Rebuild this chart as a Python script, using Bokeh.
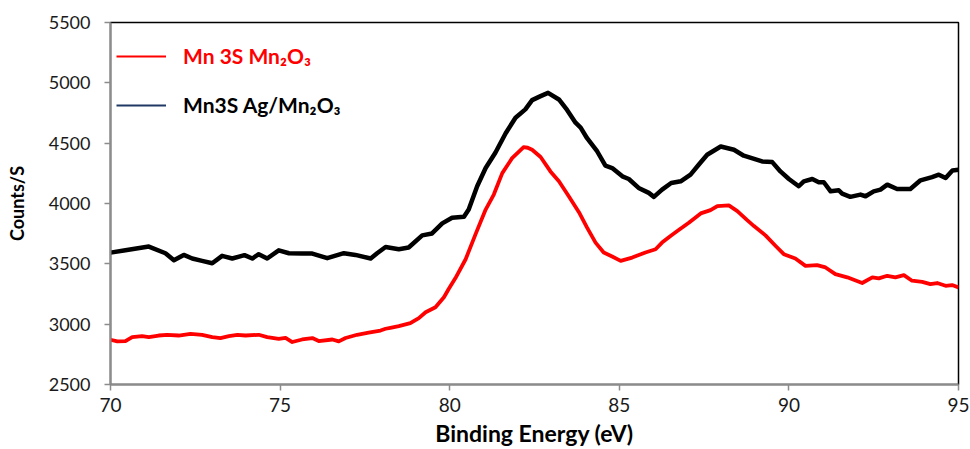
from bokeh.plotting import figure
from bokeh.models import Legend, LegendItem, FixedTicker, ColumnDataSource
from bokeh.embed import file_html
from bokeh.resources import INLINE

# Binding energy (eV) and counts for Mn 3S Mn2O3 (red)
red_energy = [70.0, 70.20, 70.44, 70.64, 70.93, 71.13, 71.42, 71.67, 72.01, 72.36,
              72.70, 73.00, 73.24, 73.49, 73.74, 73.98, 74.37, 74.62, 74.96, 75.16,
              75.36, 75.65, 75.95, 76.14, 76.54, 76.73, 76.93, 77.27, 77.61, 77.96,
              78.11, 78.25, 78.50, 78.84, 79.09, 79.29, 79.58, 79.83, 79.97, 80.17,
              80.47, 80.76, 81.06, 81.30, 81.55, 81.84, 82.18, 82.30, 82.43, 82.68,
              82.97, 83.22, 83.51, 83.81, 84.05, 84.30, 84.54, 84.79, 85.04, 85.38,
              85.77, 86.07, 86.26, 86.51, 86.71, 87.05, 87.40, 87.69, 87.89, 88.23,
              88.48, 88.77, 88.97, 89.31, 89.61, 89.85, 90.19, 90.49, 90.83, 91.08,
              91.37, 91.72, 92.16, 92.46, 92.65, 92.90, 93.14, 93.39, 93.63, 93.93,
              94.17, 94.37, 94.62, 94.81, 95.0]
red_counts = [2871, 2857, 2860, 2893, 2901, 2893, 2906, 2912, 2906, 2920,
              2912, 2893, 2885, 2901, 2912, 2906, 2912, 2893, 2879, 2887,
              2852, 2873, 2885, 2860, 2873, 2857, 2885, 2912, 2929, 2947,
              2962, 2970, 2984, 3008, 3050, 3099, 3140, 3223, 3291, 3382,
              3538, 3744, 3950, 4074, 4252, 4376, 4467, 4462, 4445, 4385,
              4266, 4184, 4060, 3928, 3800, 3676, 3594, 3561, 3525, 3552,
              3594, 3621, 3676, 3731, 3772, 3841, 3918, 3945, 3978, 3984,
              3937, 3862, 3813, 3736, 3648, 3580, 3544, 3483, 3489, 3470,
              3415, 3388, 3341, 3388, 3379, 3401, 3388, 3406, 3360, 3351,
              3332, 3341, 3318, 3324, 3305]

# Binding energy (eV) and counts for Mn3S Ag/Mn2O3 (black)
black_energy = [70.0, 70.44, 71.13, 71.62, 71.87, 72.16, 72.41, 72.70, 73.00, 73.29,
                73.59, 73.95, 74.18, 74.37, 74.62, 74.96, 75.26, 75.65, 75.95, 76.39,
                76.88, 77.22, 77.67, 77.86, 78.11, 78.50, 78.79, 79.19, 79.48, 79.78,
                80.07, 80.42, 80.56, 80.81, 81.06, 81.35, 81.65, 81.94, 82.23, 82.43,
                82.68, 82.90, 83.22, 83.46, 83.71, 83.86, 84.05, 84.35, 84.59, 84.79,
                85.09, 85.28, 85.57, 85.87, 86.02, 86.26, 86.53, 86.81, 87.10, 87.34,
                87.59, 87.99, 88.38, 88.67, 89.21, 89.51, 89.75, 90.00, 90.29, 90.44,
                90.69, 90.88, 91.03, 91.23, 91.47, 91.57, 91.81, 92.11, 92.26, 92.50,
                92.70, 92.90, 93.19, 93.58, 93.88, 94.22, 94.42, 94.62, 94.82, 95.0]
black_counts = [3593, 3612, 3643, 3588, 3530, 3574, 3544, 3525, 3505, 3566,
                3544, 3572, 3544, 3580, 3544, 3612, 3588, 3585, 3585, 3547,
                3588, 3574, 3544, 3588, 3640, 3621, 3635, 3736, 3752, 3835,
                3882, 3890, 3950, 4143, 4294, 4423, 4582, 4711, 4780, 4857,
                4890, 4917, 4862, 4775, 4670, 4629, 4541, 4431, 4313, 4294,
                4225, 4203, 4129, 4088, 4055, 4115, 4170, 4184, 4239, 4321,
                4404, 4472, 4445, 4396, 4349, 4343, 4266, 4203, 4143, 4184,
                4203, 4176, 4176, 4101, 4110, 4082, 4055, 4074, 4060, 4101,
                4115, 4156, 4120, 4120, 4192, 4219, 4239, 4211, 4274, 4280]

x_ticks = [70, 75, 80, 85, 90, 95]
y_ticks = [2500, 3000, 3500, 4000, 4500, 5000, 5500]
legend_labels = ["Mn 3S Mn\u2082O\u2083", "Mn3S Ag/Mn\u2082O\u2083"]

FONT = "Lato"
NAN = float("nan")

p = figure(width=970, height=449, output_backend="svg", toolbar_location=None,
           x_range=(70, 95), y_range=(2500, 5500),
           min_border_left=110, min_border_right=12, min_border_top=22, min_border_bottom=63)

p.xgrid.visible = False
p.ygrid.visible = False
p.background_fill_color = "white"
p.border_fill_color = "white"
p.outline_line_color = "black"
p.outline_line_width = 1.5

p.xaxis.ticker = FixedTicker(ticks=x_ticks)
p.yaxis.ticker = FixedTicker(ticks=y_ticks)
for ax in (p.xaxis[0], p.yaxis[0]):
    ax.axis_line_color = "#8c8c8c"
    ax.axis_line_width = 2
    ax.major_tick_line_color = "#8c8c8c"
    ax.major_tick_line_width = 1.5
    ax.major_tick_in = 0
    ax.major_tick_out = 6
    ax.minor_tick_line_color = None
    ax.major_label_text_font = FONT
    ax.major_label_text_color = "#1a1a1a"
    ax.axis_label_text_font = FONT
    ax.axis_label_text_font_style = "bold"
    ax.axis_label_text_color = "black"

p.yaxis.major_label_text_font_size = "18px"
p.xaxis.major_label_text_font_size = "19px"
p.yaxis.axis_label_text_font_size = "18px"
p.xaxis.axis_label_text_font_size = "23px"
p.yaxis.major_label_standoff = 14
p.xaxis.major_label_standoff = 7
p.yaxis.axis_label = "Counts/S"
p.xaxis.axis_label = "Binding Energy (eV)"
p.yaxis.axis_label_standoff = 18
p.xaxis.axis_label_standoff = 4

src_red = ColumnDataSource(dict(x=red_energy, y=red_counts))
src_black = ColumnDataSource(dict(x=black_energy, y=black_counts))
p.line("x", "y", source=src_black, line_color="black", line_width=4.5, line_join="round")
p.line("x", "y", source=src_red, line_color="#ff0000", line_width=3.8, line_join="round")

# legend swatches (placeholder renderers that draw nothing in the data area)
dummy_red = p.line(x=[NAN, NAN], y=[NAN, NAN], line_color="#ff0000", line_width=2)
dummy_navy = p.line(x=[NAN, NAN], y=[NAN, NAN], line_color="#1f3864", line_width=2)

def make_legend(label, renderer, color, loc):
    lg = Legend(items=[LegendItem(label=label, renderers=[renderer])],
                location=loc, glyph_width=50, glyph_height=20, label_height=20,
                label_standoff=17, padding=0, margin=0, spacing=0,
                border_line_alpha=0, background_fill_alpha=0,
                label_text_font=FONT, label_text_font_style="bold",
                label_text_font_size="21px", label_text_color=color)
    p.add_layout(lg, "center")

make_legend(legend_labels[0], dummy_red, "#ff0000", (6, 316))
make_legend(legend_labels[1], dummy_navy, "black", (6, 267))

open("out.html", "w").write(file_html(p, INLINE))
